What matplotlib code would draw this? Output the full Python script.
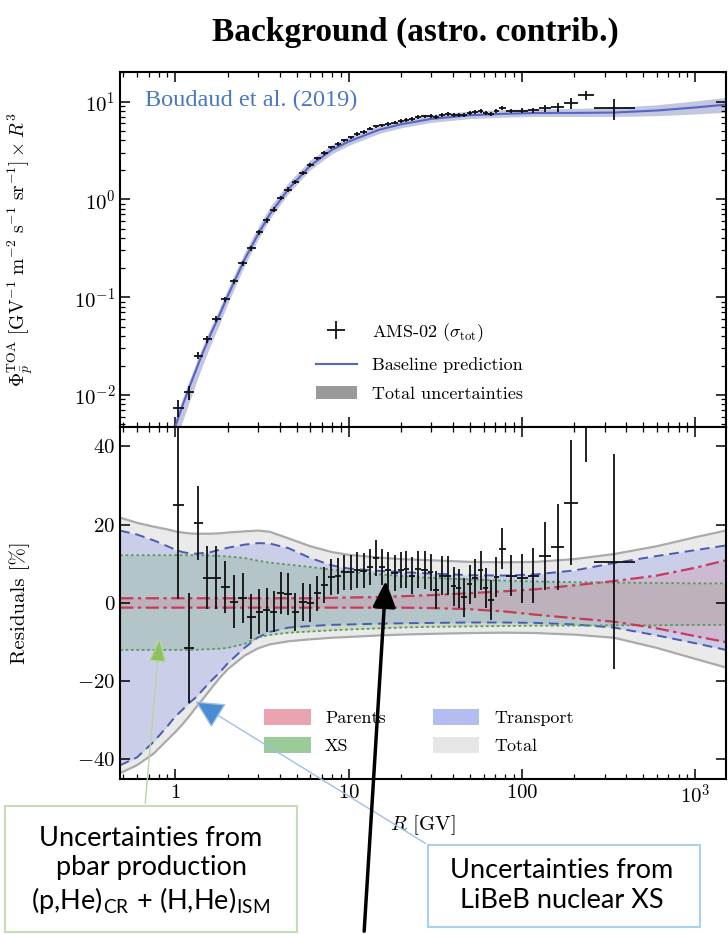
import numpy as np
import matplotlib
matplotlib.use('Agg')
import matplotlib.pyplot as plt
from matplotlib.patches import Patch, FancyArrowPatch, Rectangle
from matplotlib.ticker import FixedLocator, FixedFormatter, LogLocator, NullFormatter

plt.rcParams['font.family'] = 'serif'
plt.rcParams['font.serif'] = ['cmr10']
plt.rcParams['mathtext.fontset'] = 'cm'
plt.rcParams['axes.formatter.use_mathtext'] = True

# AMS-02 rigidity bins [GV]
R_edges = np.array([0.97, 1.12, 1.28, 1.44, 1.63, 1.83, 2.06, 2.31, 2.59, 2.90, 3.21, 3.52,
                    3.87, 4.24, 4.68, 5.17, 5.72, 6.32, 6.89, 7.56, 8.30, 9.05, 9.88, 10.8,
                    11.7, 12.8, 13.8, 14.9, 16.1, 17.6, 19.2, 20.8, 22.3, 24.1, 26.3, 28.6,
                    30.8, 33.1, 35.9, 38.9, 41.8, 44.7, 48.1, 51.7, 55.7, 59.9, 64.0, 68.5,
                    73.6, 80.5, 93, 108, 125, 147, 175, 211, 259, 450])

# flux x R^3
flux = np.array([0.0074, 0.0106, 0.0253, 0.0371, 0.0602, 0.0949, 0.145, 0.222, 0.318, 0.459,
                 0.615, 0.786, 1.03, 1.26, 1.51, 1.86, 2.23, 2.62, 2.97, 3.40, 3.69, 4.02,
                 4.30, 4.65, 4.91, 5.28, 5.59, 5.71, 5.88, 6.09, 6.32, 6.53, 6.60, 6.91, 7.05,
                 7.16, 6.94, 7.30, 7.40, 7.31, 7.36, 7.27, 7.60, 7.75, 7.96, 7.66, 7.48, 7.94,
                 8.53, 8.07, 8.08, 8.15, 8.56, 8.74, 9.61, 11.6, 8.53])

# residuals wrt baseline [%]
resid = np.array([25, -11.5, 20.5, 6.5, 6.5, 4, 0.3, 1.3, -3.5, -2.2, -1.8, -2.2, 2.5, 2.3,
                  -2.3, 0.3, 0, 2.5, 4.6, 6.6, 7.0, 7.8, 7.8, 8.4, 8.2, 9.2, 11.6, 9.2, 8.4,
                  7.6, 8.4, 8.6, 7.0, 8.6, 8.4, 7.8, 3.3, 7.0, 7.0, 4.3, 3.8, 1.5, 4.8, 6.3,
                  8.4, 3.8, 0.8, 6.6, 13.9, 7.0, 6.3, 7.0, 12.0, 14.2, 25.6, 52, 10.5])
resid_err = np.array([24, 14, 9.5, 8, 8, 6.6, 6.8, 6.3, 5.8, 5.7, 5.7, 5.2, 5.3, 5.3, 4.8,
                      4.8, 4.8, 4.5, 4.7, 4.6, 4.6, 4.5, 4.5, 4.5, 4.5, 4.5, 4.6, 4.6, 4.6,
                      4.6, 4.7, 4.7, 4.7, 4.7, 4.8, 4.8, 4.8, 4.9, 4.9, 5.0, 5.0, 5.0, 5.0,
                      5.0, 5.0, 5.1, 5.1, 5.2, 5.3, 5.3, 6.3, 7.0, 8.6, 11, 16, 16, 27.5])

# model grid
R_model = np.array([0.48, 0.6, 0.75, 0.9, 1.0, 1.1, 1.2, 1.3, 1.4, 1.6, 1.8, 2.0, 2.5, 3.0,
                    3.5, 4.5, 6, 8, 10, 15, 20, 30, 50, 80, 120, 200, 340, 600, 1000, 1500])
baseline = np.array([0.0002, 0.0006, 0.0016, 0.0032, 0.0048, 0.0078, 0.0118, 0.017, 0.024,
                     0.042, 0.066, 0.102, 0.24, 0.44, 0.70, 1.28, 2.21, 3.2, 3.9, 5.15, 5.85,
                     6.65, 7.25, 7.5, 7.63, 7.65, 7.72, 8.1, 8.7, 9.3])
tot_hi = np.array([21.8, 20.5, 19.5, 18.8, 18.3, 18.0, 17.8, 17.7, 17.7, 17.7, 17.8, 18.0,
                   18.3, 18.5, 18.2, 16.5, 14.5, 13.0, 12.3, 11.6, 11.2, 10.9, 10.5, 10.4,
                   10.5, 11.2, 12.5, 14.5, 16.8, 18.5])
tot_lo = np.array([-43.5, -41.5, -38.5, -35, -33, -31, -29, -27, -25.3, -22, -19.2, -17,
                   -13.5, -11.6, -10.6, -9.8, -9.3, -8.9, -8.7, -8.3, -8.1, -7.9, -7.7, -7.6,
                   -7.7, -8.1, -8.9, -11.5, -14.3, -16.5])
tr_hi = np.array([18.5, 17.5, 16, 14.5, 13.6, 13, 12.7, 12.6, 12.7, 13, 13.6, 14.1, 14.9,
                  15.3, 15.2, 14, 11.5, 9.6, 8.8, 8.2, 7.9, 7.5, 7.1, 7.0, 7.3, 8.3, 10.2, 12,
                  13.5, 14.7])
tr_lo = np.array([-41.5, -39.5, -35.5, -31.5, -29, -27.3, -25.6, -24.3, -22.8, -20, -17.8,
                  -15.5, -11.5, -8.8, -7.4, -6.3, -5.9, -5.6, -5.5, -5.3, -5.2, -5.1, -5.0,
                  -5.0, -5.1, -5.5, -6.3, -8.3, -10.3, -12])
xs_hi = np.array([12.2, 12.2, 12.2, 12.2, 12.2, 12.2, 12.2, 12.2, 12.2, 12.1, 12.0, 11.9,
                  11.5, 10.8, 10.3, 9.8, 9.2, 8.5, 8.0, 7.3, 6.9, 6.4, 6.0, 5.7, 5.5, 5.3,
                  5.2, 5.1, 5.0, 5.0])
xs_lo = np.array([-12, -12, -12, -12, -12, -12, -12, -12, -11.9, -11.8, -11.7, -11.5, -10.5,
                  -8.8, -8.2, -7.6, -7.3, -7.0, -6.8, -6.5, -6.3, -6.1, -6.0, -5.9, -5.8,
                  -5.8, -5.7, -5.7, -5.6, -5.6])
par_hi = np.array([1.2, 1.2, 1.2, 1.2, 1.2, 1.2, 1.2, 1.2, 1.2, 1.2, 1.2, 1.2, 1.2, 1.2, 1.2,
                   1.2, 1.2, 1.3, 1.4, 1.5, 1.7, 2.0, 2.5, 3.0, 3.5, 4.5, 5.6, 7.0, 9.0, 10.9])
par_lo = np.array([-1.2, -1.2, -1.2, -1.2, -1.2, -1.2, -1.2, -1.2, -1.2, -1.2, -1.2, -1.2,
                   -1.2, -1.2, -1.2, -1.2, -1.2, -1.2, -1.2, -1.2, -1.2, -1.3, -1.6, -2.2,
                   -3.0, -3.9, -4.8, -6.5, -8.5, -10])

R_c = np.sqrt(R_edges[:-1] * R_edges[1:])
xerr = [R_c - R_edges[:-1], R_edges[1:] - R_c]
flux_err = flux * resid_err / (100 + resid)

fig = plt.figure(figsize=(7.28, 9.34), dpi=100)
ax1 = fig.add_axes([0.165, 0.5428, 0.832, 0.380])
ax2 = fig.add_axes([0.165, 0.166, 0.832, 0.3769], sharex=ax1)

# ---- top: flux
ax1.fill_between(R_model, baseline * (1 + tot_lo / 100), baseline * (1 + tot_hi / 100),
                 color='#a9aed0', alpha=0.7, lw=0)
base_line, = ax1.plot(R_model, baseline, color='#5565c8', lw=1.5)
eb = ax1.errorbar(R_c, flux, xerr=xerr, yerr=flux_err, fmt='none', ecolor='#111111',
                  elinewidth=1.3, zorder=5)
ax1.set_xscale('log')
ax1.set_yscale('log')
ax1.set_xlim(0.48, 1500)
ax1.set_ylim(4.7e-3, 20)
ax1.yaxis.set_major_locator(LogLocator(base=10, numticks=10))
ax1.yaxis.set_minor_locator(LogLocator(base=10, subs=np.arange(2, 10), numticks=20))
ax1.set_ylabel(r'$\Phi_{\bar{p}}^{\rm TOA}\ [{\rm GV}^{-1}\ {\rm m}^{-2}\ {\rm s}^{-1}\ '
               r'{\rm sr}^{-1}] \times R^3$', fontsize=14)
ax1.yaxis.set_label_coords(-0.14, 0.5)
ax1.text(0.041, 0.921, 'Boudaud et al. (2019)', transform=ax1.transAxes, color='#4a78c0',
         family='Liberation Serif', fontsize=17.5, va='center')
ax1.legend([eb, base_line, Patch(facecolor='#9a9a9a')],
           [r'AMS-02 ($\sigma_{\rm tot}$)', 'Baseline prediction', 'Total uncertainties'],
           loc='upper left', bbox_to_anchor=(0.296, 0.345), frameon=False, fontsize=13,
           handlelength=2.3, labelspacing=0.75)

# ---- bottom: residuals
ax2.fill_between(R_model, tot_lo, tot_hi, color='#d6d6d6', alpha=0.5, lw=0)
ax2.fill_between(R_model, tr_lo, tr_hi, color='#8a96e8', alpha=0.33, lw=0)
ax2.fill_between(R_model, xs_lo, xs_hi, color='#78b078', alpha=0.28, lw=0)
ax2.fill_between(R_model, par_lo, par_hi, color='#d8849a', alpha=0.28, lw=0)
for y in (tot_lo, tot_hi):
    ax2.plot(R_model, y, color='#aaaaaa', lw=1.6)
for y in (tr_lo, tr_hi):
    ax2.plot(R_model, y, color='#4b5cb0', lw=1.4, ls=(0, (5, 3)))
for y in (xs_lo, xs_hi):
    ax2.plot(R_model, y, color='#5a9a5a', lw=1.3, ls=(0, (1.5, 1.5)))
for y in (par_lo, par_hi):
    ax2.plot(R_model, y, color='#c83a5a', lw=1.6, ls=(0, (6, 2, 1.5, 2)))
ax2.errorbar(R_c, resid, xerr=xerr, yerr=resid_err, fmt='none', ecolor='#111111',
             elinewidth=1.3, zorder=5)
ax2.set_ylim(-45, 45)
ax2.set_yticks([-40, -20, 0, 20, 40])
ax2.set_ylabel('Residuals [%]', fontsize=15)
ax2.yaxis.set_label_coords(-0.148, 0.5)
ax2.set_xlabel(r'$R$ [GV]', fontsize=15)
ax2.xaxis.set_major_locator(FixedLocator([1, 10, 100, 1000]))
ax2.xaxis.set_major_formatter(FixedFormatter(['$1$', '$10$', '$100$', '$10^3$']))
ax2.xaxis.set_minor_locator(LogLocator(base=10, subs=np.arange(2, 10), numticks=20))
ax2.xaxis.set_minor_formatter(NullFormatter())
ax2.legend([Patch(facecolor='#e8a2b0'), Patch(facecolor='#9acc9a'),
            Patch(facecolor='#b4bcf0'), Patch(facecolor='#e6e6e6')],
           ['Parents', 'XS', 'Transport', 'Total'], ncol=2, loc='upper left',
           bbox_to_anchor=(0.21, 0.245), frameon=False, fontsize=13, handlelength=2.6,
           handleheight=1.0, columnspacing=2.6, labelspacing=0.6)

for ax in (ax1, ax2):
    ax.tick_params(which='both', direction='in', top=True, right=True, labelsize=15)
    ax.tick_params(which='major', length=7, width=1.1)
    ax.tick_params(which='minor', length=3.5, width=0.9)
    for s in ax.spines.values():
        s.set_linewidth(1.5)
ax1.tick_params(labelbottom=False)

fig.text(415 / 728, 1 - 32 / 934, 'Background (astro. contrib.)', family='Liberation Serif',
         fontweight='bold', fontsize=24, ha='center', va='center')


def fx(px):
    return px / 728


def fy(py):
    return 1 - py / 934


# callout boxes
fig.add_artist(Rectangle((fx(5), fy(932)), fx(297) - fx(5), fy(806) - fy(932),
                         transform=fig.transFigure, fc='white', ec='#c6dcb6', lw=1.5))
fig.text(fx(151), fy(871), 'Uncertainties from\npbar production\n'
         r'(p,He)$_\mathregular{CR}$ + (H,He)$_\mathregular{ISM}$',
         family='Lato', fontsize=19.5, ha='center', va='center', linespacing=1.2)
fig.add_artist(Rectangle((fx(428), fy(927)), fx(700) - fx(428), fy(845) - fy(927),
                         transform=fig.transFigure, fc='white', ec='#a9d0ee', lw=1.5))
fig.text(fx(562), fy(886), 'Uncertainties from\nLiBeB nuclear XS',
         family='Lato', fontsize=19.5, ha='center', va='center', linespacing=1.25)

# arrows
fig.add_artist(FancyArrowPatch((fx(145), fy(806)), (fx(160), fy(634)),
                               transform=fig.transFigure,
                               arrowstyle='-|>,head_length=0.8,head_width=0.28',
                               mutation_scale=20, lw=1.0, ec='#b9d4a4', fc='#8fc25e'))
fig.add_artist(FancyArrowPatch((fx(428), fy(845)), (fx(193), fy(700)),
                               transform=fig.transFigure,
                               arrowstyle='-|>,head_length=0.9,head_width=0.45',
                               mutation_scale=20, lw=1.0, ec='#9fc0e4', fc='#4b8bd2'))
fig.add_artist(FancyArrowPatch((fx(364), fy(934)), (fx(386), fy(578)),
                               transform=fig.transFigure,
                               arrowstyle='-|>,head_length=0.8,head_width=0.35',
                               mutation_scale=20, lw=2.5, color='black'))

fig.savefig('out.png', dpi=100)
